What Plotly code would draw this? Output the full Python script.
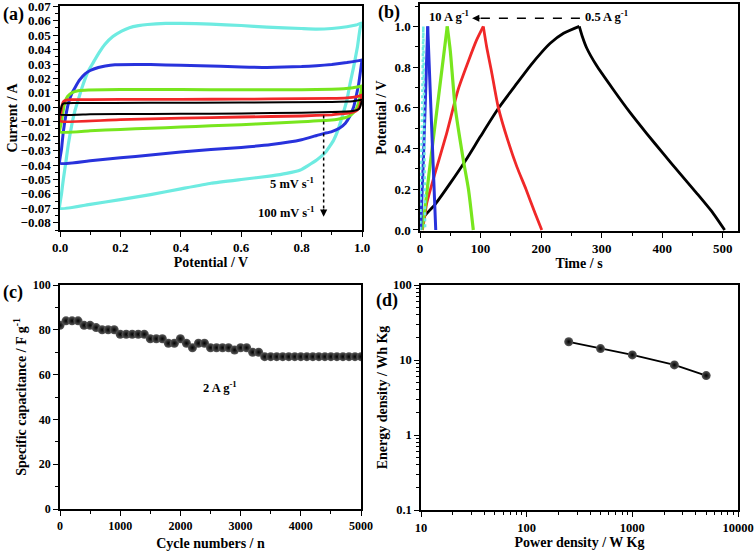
import plotly.graph_objects as go

# ---------------- (a) CV curves: potential (V) and current (A) ----------------
cv_black_up_v = [0.000, 0.003, 0.008, 0.015, 0.050, 0.300, 0.600, 0.900, 0.970, 1.000]
cv_black_up_i = [-0.0050, -0.0010, 0.0020, 0.0028, 0.0030, 0.0031, 0.0033, 0.0037, 0.0042, 0.0052]
cv_black_dn_v = [1.000, 0.995, 0.990, 0.970, 0.900, 0.700, 0.500, 0.300, 0.100, 0.000]
cv_black_dn_i = [0.0052, 0.0010, -0.0012, -0.0026, -0.0033, -0.0040, -0.0044, -0.0046, -0.0048, -0.0050]

cv_red_up_v = [0.000, 0.003, 0.007, 0.012, 0.020, 0.040, 0.100, 0.300, 0.500, 0.700, 0.900, 0.950, 0.980, 1.000]
cv_red_up_i = [-0.0095, -0.0040, 0.0015, 0.0040, 0.0050, 0.0053, 0.0054, 0.0055, 0.0056, 0.0058, 0.0062, 0.0066, 0.0073, 0.0085]
cv_red_dn_v = [1.000, 0.995, 0.990, 0.980, 0.960, 0.930, 0.900, 0.800, 0.600, 0.400, 0.200, 0.000]
cv_red_dn_i = [0.0085, 0.0030, -0.0005, -0.0025, -0.0038, -0.0046, -0.0052, -0.0060, -0.0067, -0.0075, -0.0085, -0.0095]

cv_green_up_v = [0.000, 0.005, 0.010, 0.017, 0.025, 0.040, 0.060, 0.094, 0.200, 0.400, 0.600, 0.800, 0.900, 0.940, 0.970, 1.000]
cv_green_up_i = [-0.0171, -0.0100, -0.0030, 0.0040, 0.0075, 0.0102, 0.0115, 0.0120, 0.0123, 0.0123, 0.0122, 0.0122, 0.0125, 0.0129, 0.0136, 0.0148]
cv_green_dn_v = [1.000, 0.995, 0.990, 0.980, 0.965, 0.950, 0.920, 0.900, 0.800, 0.700, 0.600, 0.500, 0.400, 0.300, 0.200, 0.100, 0.000]
cv_green_dn_i = [0.0148, 0.0090, 0.0040, -0.0015, -0.0050, -0.0068, -0.0082, -0.0088, -0.0100, -0.0110, -0.0120, -0.0128, -0.0137, -0.0145, -0.0153, -0.0162, -0.0171]

cv_blue_up_v = [0.000, 0.005, 0.011, 0.020, 0.028, 0.040, 0.050, 0.065, 0.083, 0.100, 0.127, 0.150, 0.182, 0.250, 0.300, 0.400, 0.464, 0.600, 0.685, 0.800, 0.850, 0.900, 0.950, 0.980, 1.000]
cv_blue_up_i = [-0.0388, -0.0290, -0.0170, -0.0050, 0.0030, 0.0100, 0.0138, 0.0190, 0.0232, 0.0255, 0.0276, 0.0287, 0.0295, 0.0297, 0.0296, 0.0292, 0.0288, 0.0280, 0.0276, 0.0282, 0.0288, 0.0297, 0.0310, 0.0320, 0.0327]
cv_blue_dn_v = [1.000, 0.995, 0.989, 0.980, 0.972, 0.960, 0.945, 0.925, 0.900, 0.872, 0.850, 0.800, 0.700, 0.600, 0.500, 0.400, 0.300, 0.200, 0.100, 0.000]
cv_blue_dn_i = [0.0327, 0.0250, 0.0161, 0.0070, 0.0000, -0.0060, -0.0110, -0.0145, -0.0168, -0.0182, -0.0195, -0.0225, -0.0258, -0.0278, -0.0292, -0.0310, -0.0330, -0.0350, -0.0370, -0.0388]

cv_cyan_up_v = [0.000, 0.005, 0.011, 0.020, 0.028, 0.040, 0.050, 0.060, 0.075, 0.094, 0.110, 0.130, 0.149, 0.175, 0.204, 0.230, 0.260, 0.290, 0.350, 0.400, 0.500, 0.600, 0.685, 0.800, 0.850, 0.900, 0.950, 0.980, 1.000]
cv_cyan_up_i = [-0.0700, -0.0600, -0.0500, -0.0370, -0.0250, -0.0110, -0.0020, 0.0050, 0.0150, 0.0253, 0.0310, 0.0380, 0.0437, 0.0490, 0.0528, 0.0552, 0.0566, 0.0574, 0.0581, 0.0582, 0.0576, 0.0567, 0.0556, 0.0546, 0.0542, 0.0546, 0.0558, 0.0570, 0.0585]
cv_cyan_dn_v = [1.000, 0.994, 0.985, 0.972, 0.960, 0.950, 0.935, 0.920, 0.906, 0.880, 0.850, 0.820, 0.796, 0.750, 0.700, 0.600, 0.500, 0.400, 0.300, 0.200, 0.100, 0.000]
cv_cyan_dn_i = [0.0585, 0.0551, 0.0420, 0.0277, 0.0160, 0.0050, -0.0060, -0.0160, -0.0228, -0.0310, -0.0365, -0.0405, -0.0434, -0.0458, -0.0475, -0.0500, -0.0526, -0.0565, -0.0605, -0.0640, -0.0672, -0.0700]

# ---------------- (b) GCD curves: time (s) and potential (V) ----------------
gcd_black_t = [0, 2, 5, 26, 50, 75, 100, 130, 160, 183, 200, 215, 237, 263, 268, 275, 291, 319, 346, 374, 401, 429, 457, 484, 503]
gcd_black_v = [0.0, 0.04, 0.06, 0.13, 0.23, 0.34, 0.46, 0.60, 0.72, 0.81, 0.87, 0.917, 0.966, 1.0, 0.95, 0.895, 0.81, 0.69, 0.58, 0.475, 0.377, 0.278, 0.18, 0.082, 0.0]
gcd_red_t = [4, 8, 11, 25, 44, 63, 80, 93, 104.5, 110, 118, 129, 145, 160, 175, 190, 201]
gcd_red_v = [0.0, 0.07, 0.13, 0.28, 0.475, 0.69, 0.83, 0.93, 1.0, 0.90, 0.78, 0.605, 0.44, 0.31, 0.20, 0.082, 0.0]
gcd_green_t = [3, 8, 15, 25, 35, 45, 50, 58, 71.5, 80, 88]
gcd_green_v = [0.0, 0.10, 0.28, 0.52, 0.76, 1.0, 0.88, 0.605, 0.344, 0.20, 0.0]
gcd_blue_t = [1, 5, 9, 12.7, 16, 20, 24, 26]
gcd_blue_v = [0.0, 0.30, 0.65, 1.0, 0.75, 0.45, 0.15, 0.0]
gcd_cyan_t = [0.5, 3, 5.5, 7, 8.5]
gcd_cyan_v = [0.0, 0.5, 1.0, 0.5, 0.0]

# ---------------- (c) cycling stability ----------------
cycles = [0, 100, 200, 300, 400, 500, 600, 700, 800, 900, 1000, 1100, 1200, 1300, 1400,
          1500, 1600, 1700, 1800, 1900, 2000, 2100, 2200, 2300, 2400, 2500, 2600, 2700,
          2800, 2900, 3000, 3100, 3200, 3300, 3400, 3500, 3600, 3700, 3800, 3900, 4000,
          4100, 4200, 4300, 4400, 4500, 4600, 4700, 4800, 4900, 5000]
capacitance = [82, 84, 84, 84, 82, 82, 81, 80, 80, 80, 78, 78, 78, 78, 78,
               76, 76, 76, 74, 74, 76, 74, 72, 74, 74, 72, 72, 72,
               72, 71, 72, 72, 70, 70, 68, 68, 68, 68, 68, 68, 68,
               68, 68, 68, 68, 68, 68, 68, 68, 68, 68]

# ---------------- (d) Ragone plot ----------------
power_density = [250, 500, 1000, 2500, 5000]
energy_density = [17.5, 14.2, 11.7, 8.6, 6.2]

C_BLACK = "#000000"
C_RED = "#F02828"
C_GREEN = "#78E61E"
C_BLUE = "#2832DC"
C_CYAN = "#6EEBE1"

FONT = "Liberation Serif"
W, H = 756, 553

fig = go.Figure()

def cv(vu, iu, vd, idn, color, width):
    fig.add_trace(go.Scatter(x=vu + vd, y=iu + idn, mode="lines",
                             line=dict(color=color, width=width, shape="spline", smoothing=0.4),
                             xaxis="x", yaxis="y", showlegend=False))

cv(cv_cyan_up_v, cv_cyan_up_i, cv_cyan_dn_v, cv_cyan_dn_i, C_CYAN, 3.2)
cv(cv_blue_up_v, cv_blue_up_i, cv_blue_dn_v, cv_blue_dn_i, C_BLUE, 3.0)
cv(cv_green_up_v, cv_green_up_i, cv_green_dn_v, cv_green_dn_i, C_GREEN, 3.0)
cv(cv_red_up_v, cv_red_up_i, cv_red_dn_v, cv_red_dn_i, C_RED, 2.8)
cv(cv_black_up_v, cv_black_up_i, cv_black_dn_v, cv_black_dn_i, C_BLACK, 2.0)

def gcd(t, v, color, width, dash="solid"):
    k = v.index(max(v))
    for xs, ys in ((t[:k + 1], v[:k + 1]), (t[k:], v[k:])):
        fig.add_trace(go.Scatter(x=xs, y=ys, mode="lines",
                                 line=dict(color=color, width=width, dash=dash,
                                           shape="spline", smoothing=0.6),
                                 xaxis="x2", yaxis="y2", showlegend=False))

gcd(gcd_black_t, gcd_black_v, C_BLACK, 2.8)
gcd(gcd_red_t, gcd_red_v, C_RED, 2.8)
gcd(gcd_green_t, gcd_green_v, C_GREEN, 3.2)
gcd(gcd_blue_t, gcd_blue_v, C_BLUE, 3.0)
gcd(gcd_cyan_t, gcd_cyan_v, C_CYAN, 2.5, "dot")

sphere = dict(size=9, color="#5a5a5a", gradient=dict(type="radial", color="#000000"),
              line=dict(width=0))
fig.add_trace(go.Scatter(x=cycles, y=capacitance, mode="markers", marker=sphere,
                         xaxis="x3", yaxis="y3", showlegend=False))
fig.add_trace(go.Scatter(x=power_density, y=energy_density, mode="lines+markers",
                         line=dict(color="black", width=1.8), marker=sphere,
                         xaxis="x4", yaxis="y4", showlegend=False))

def fx(px):
    return px / W

def fy(py):
    return 1 - py / H

def tf(size):
    return dict(family=FONT, size=size, color="black", weight="bold")

titlefont = dict(family=FONT, size=14, color="black", weight="bold")

def axis(domain, rng, dtick, minor_dtick, title, standoff, anchor, fsize, tickformat=None, typ="linear"):
    d = dict(domain=domain, range=rng, showgrid=False, zeroline=False,
             showline=True, linecolor="black", linewidth=1.5, mirror=True,
             ticks="outside", ticklen=5, tickwidth=1.3, tickcolor="black",
             tickfont=tf(fsize), anchor=anchor, automargin=False,
             ticklabeloverflow="allow",
             title=dict(text=title, font=titlefont, standoff=standoff), type=typ)
    if typ == "linear":
        d.update(dtick=dtick, tick0=0)
        d["minor"] = dict(dtick=minor_dtick, tick0=0, ticks="outside", ticklen=3, tickwidth=1, tickcolor="black")
    else:
        d.update(dtick=1, exponentformat="none")
        d["minor"] = dict(ticks="outside", ticklen=3, tickwidth=1, tickcolor="black", dtick="D1")
    if tickformat:
        d["tickformat"] = tickformat
    return d

fig.update_layout(
    width=W, height=H, margin=dict(l=0, r=0, t=0, b=0),
    paper_bgcolor="white", plot_bgcolor="white", template="none",
    xaxis=axis([fx(60), fx(362)], [0, 1.0], 0.2, 0.1, "Potential / V", 0, "y", 13, ".1f"),
    yaxis=axis([fy(230), fy(6)], [-0.085, 0.0702], 0.01, 0.005, "Current / A", 0, "x", 13, ".2f"),
    xaxis2=axis([fx(420), fx(738)], [0, 525], 100, 50, "Time / s", 0, "y2", 13),
    yaxis2=axis([fy(231), fy(4)], [-0.005, 1.11], 0.2, 0.1, "Potential / V", 5, "x2", 13, ".1f"),
    xaxis3=axis([fx(60), fx(361)], [0, 5000], 1000, 500, "Cycle numbers / n", 6, "y3", 12),
    yaxis3=axis([fy(509), fy(285)], [0, 100], 20, 10, "Specific capacitance / F g<sup>-1</sup>", 3, "x3", 12),
    xaxis4=axis([fx(421), fx(738)], [1, 4], None, None, "Power density / W Kg", 0, "y4", 12.5, "d", typ="log"),
    yaxis4=axis([fy(510), fy(285)], [-1, 2], None, None, "Energy density / Wh Kg", 2, "x4", 12.5, typ="log"),
)

ann_font = dict(family=FONT, size=12.5, color="black", weight="bold")
label_font = dict(family=FONT, size=18, color="black", weight="bold")
annotations = [
    dict(text="(a)", x=fx(1), y=fy(2), xref="paper", yref="paper", xanchor="left", yanchor="top", showarrow=False, font=label_font),
    dict(text="(b)", x=fx(376), y=fy(0), xref="paper", yref="paper", xanchor="left", yanchor="top", showarrow=False, font=label_font),
    dict(text="(c)", x=fx(1), y=fy(280), xref="paper", yref="paper", xanchor="left", yanchor="top", showarrow=False, font=label_font),
    dict(text="(d)", x=fx(374), y=fy(288), xref="paper", yref="paper", xanchor="left", yanchor="top", showarrow=False, font=label_font),
    dict(text="5 mV s<sup>-1</sup>", x=0.848, y=-0.0526, xref="x", yref="y", xanchor="right", yanchor="middle", showarrow=False, font=ann_font),
    dict(text="100 mV s<sup>-1</sup>", x=0.848, y=-0.0726, xref="x", yref="y", xanchor="right", yanchor="middle", showarrow=False, font=ann_font),
    dict(text="", x=0.873, y=-0.0758, xref="x", yref="y", ax=0, ay=-9, showarrow=True, arrowhead=2, arrowsize=1.2, arrowwidth=1.2, arrowcolor="black"),
    dict(text="10 A g<sup>-1</sup>", x=(449 - 420) / 0.606, y=1.05, xref="x2", yref="y2", xanchor="center", yanchor="middle", showarrow=False, font=ann_font),
    dict(text="0.5 A g<sup>-1</sup>", x=(607 - 420) / 0.606, y=1.05, xref="x2", yref="y2", xanchor="center", yanchor="middle", showarrow=False, font=ann_font),
    dict(text="", x=86, y=1.04, xref="x2", yref="y2", ax=10, ay=0, showarrow=True, arrowhead=2, arrowsize=1.2, arrowwidth=1.2, arrowcolor="black"),
    dict(text="2 A g<sup>-1</sup>", x=2658, y=54.6, xref="x3", yref="y3", xanchor="center", yanchor="middle", showarrow=False, font=ann_font),
]
fig.update_layout(annotations=annotations)

fig.update_layout(shapes=[
    dict(type="line", xref="x", yref="y", x0=0.873, x1=0.873, y0=-0.0056, y1=-0.0735,
         line=dict(color="black", width=1.5, dash="dot")),
    dict(type="line", xref="x2", yref="y2", x0=264, x1=92, y0=1.04, y1=1.04,
         line=dict(color="black", width=1.5, dash="dash")),
])

fig.write_html("out.html", config={"displayModeBar": False},
               post_script="document.body.style.margin='0px';")
